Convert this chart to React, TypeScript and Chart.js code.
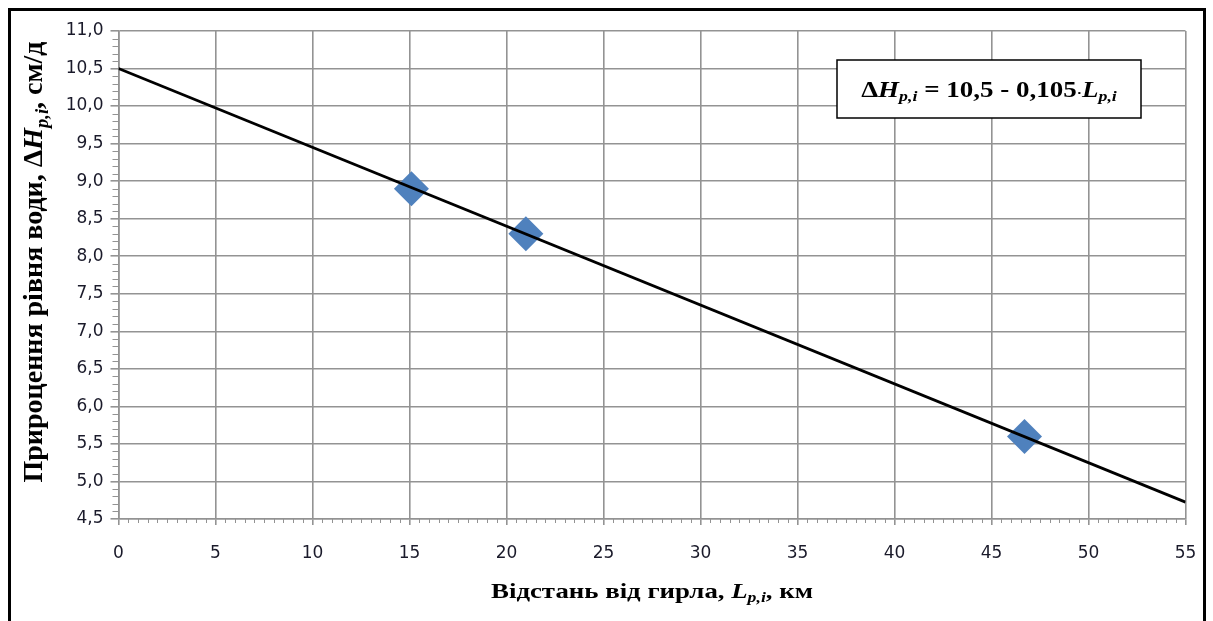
import { useEffect, useRef } from 'react';
import { Chart, registerables } from 'chart.js';

Chart.register(...registerables);

// Observed stations: distance from the river mouth (km) and daily water-level rise (cm/day)
const stationDistanceKm = [15.1, 21.0, 46.7];
const levelRiseCmPerDay = [8.9, 8.3, 5.6];

// Linear fit ΔH = 10,5 - 0,105·L, drawn over the full distance range
const fitIntercept = 10.5;
const fitSlope = -0.105;
const fitRangeKm = [0, 55];

// Axis ranges and tick steps
const xRange = [0, 55];
const xMajorStep = 5;
const xMinorStep = 0.5;
const yRange = [4.5, 11.0];
const yMajorStep = 0.5;
const yMinorStep = 0.1;

const SERIF = '"Liberation Serif", "Times New Roman", serif';
const TICK_FONT = '"DejaVu Sans", Verdana, sans-serif';
const GRID = '#939393';
const TEXT = '#1a1a2a';

type Run = { text: string; italic?: boolean; sub?: boolean; size?: number };

function runFont(r: Run, size: number) {
  const s = r.sub ? size * 0.66 : r.size ?? size;
  return `${r.italic ? 'italic ' : ''}bold ${s}px ${SERIF}`;
}

// Draws a row of text runs centered on (cx, baseline y), widened by sx along the text direction
function drawRuns(
  ctx: CanvasRenderingContext2D,
  runs: Run[],
  cx: number,
  y: number,
  size: number,
  sx = 1
) {
  const widths = runs.map((r) => {
    ctx.font = runFont(r, size);
    return ctx.measureText(r.text).width;
  });
  const total = widths.reduce((a, b) => a + b, 0);
  ctx.save();
  ctx.translate(cx, y);
  ctx.scale(sx, 1);
  let x = -total / 2;
  ctx.textAlign = 'left';
  ctx.textBaseline = 'alphabetic';
  runs.forEach((r, i) => {
    ctx.font = runFont(r, size);
    ctx.fillText(r.text, x, r.sub ? size * 0.2 : 0);
    x += widths[i];
  });
  ctx.restore();
}

const decorPlugin = {
  id: 'decor',
  afterDraw(chart: Chart) {
    const ctx = chart.ctx;
    const area = chart.chartArea;
    const xs = chart.scales.x;
    const ys = chart.scales.y;
    ctx.save();

    // minor tick marks
    ctx.strokeStyle = GRID;
    ctx.lineWidth = 1;
    ctx.beginPath();
    const nx = Math.round((xRange[1] - xRange[0]) / xMinorStep);
    for (let i = 0; i <= nx; i++) {
      const v = xRange[0] + i * xMinorStep;
      if (i % Math.round(xMajorStep / xMinorStep) === 0) continue;
      const px = Math.round(xs.getPixelForValue(v)) + 0.5;
      ctx.moveTo(px, area.bottom);
      ctx.lineTo(px, area.bottom + 4);
    }
    const ny = Math.round((yRange[1] - yRange[0]) / yMinorStep);
    for (let i = 0; i <= ny; i++) {
      const v = yRange[0] + i * yMinorStep;
      if (i % Math.round(yMajorStep / yMinorStep) === 0) continue;
      const py = Math.round(ys.getPixelForValue(v)) + 0.5;
      ctx.moveTo(area.left - 6, py);
      ctx.lineTo(area.left, py);
    }
    ctx.stroke();

    ctx.fillStyle = '#000';
    // x axis title
    drawRuns(
      ctx,
      [
        { text: 'Відстань від гирла, ' },
        { text: 'L', italic: true },
        { text: 'p,i', italic: true, sub: true },
        { text: ', км' },
      ],
      (area.left + area.right) / 2,
      587,
      22,
      1.22
    );

    // y axis title
    ctx.save();
    ctx.translate(31, 251);
    ctx.rotate(-Math.PI / 2);
    drawRuns(
      ctx,
      [
        { text: 'Прироцення рівня води, Δ' },
        { text: 'H', italic: true },
        { text: 'p,i', italic: true, sub: true },
        { text: ', см/д' },
      ],
      0,
      0,
      28
    );
    ctx.restore();

    // equation box
    const bx = area.right - 348.5;
    const by = area.top + 29;
    const bw = 304;
    const bh = 58;
    ctx.fillStyle = '#fff';
    ctx.fillRect(bx, by, bw, bh);
    ctx.strokeStyle = '#000';
    ctx.lineWidth = 1.5;
    ctx.strokeRect(bx, by, bw, bh);
    ctx.fillStyle = '#000';
    drawRuns(
      ctx,
      [
        { text: 'Δ' },
        { text: 'H', italic: true },
        { text: 'p,i', italic: true, sub: true },
        { text: ' = 10,5 - 0,105' },
        { text: '·', size: 13 },
        { text: 'L', italic: true },
        { text: 'p,i', italic: true, sub: true },
      ],
      bx + bw / 2,
      by + 36.5,
      22.5,
      1.2
    );
    ctx.restore();
  },
};

export default function App() {
  const canvasRef = useRef<HTMLCanvasElement | null>(null);

  useEffect(() => {
    document.documentElement.style.overflow = 'hidden';
    const canvas = canvasRef.current;
    if (!canvas) return;

    const points = stationDistanceKm.map((x, i) => ({ x, y: levelRiseCmPerDay[i] }));
    const fitLine = fitRangeKm.map((x) => ({ x, y: fitIntercept + fitSlope * x }));

    const chart = new Chart(canvas, {
      type: 'scatter',
      data: {
        datasets: [
          {
            type: 'line',
            data: fitLine,
            borderColor: '#000',
            borderWidth: 2.8,
            pointRadius: 0,
            fill: false,
            order: 0,
          },
          {
            type: 'scatter',
            data: points,
            pointStyle: 'rectRot',
            pointRadius: 17.5,
            pointHoverRadius: 17.5,
            backgroundColor: '#4f81bd',
            borderWidth: 0,
            order: 1,
          },
        ],
      },
      options: {
        responsive: false,
        animation: false,
        devicePixelRatio: 1,
        events: [],
        layout: { padding: { left: 0, right: 16.5, top: 20, bottom: 0 } },
        plugins: { legend: { display: false }, tooltip: { enabled: false } },
        scales: {
          x: {
            type: 'linear',
            min: xRange[0],
            max: xRange[1],
            afterFit: (s: any) => {
              s.height = 102;
              s.paddingLeft = 0;
              s.paddingRight = 0;
            },
            ticks: {
              stepSize: xMajorStep,
              color: TEXT,
              font: { family: TICK_FONT, size: 17 },
              padding: 18,
              maxRotation: 0,
            },
            grid: { color: GRID, lineWidth: 1.6, tickLength: 6, tickColor: GRID },
            border: { color: GRID, width: 1.6 },
          },
          y: {
            type: 'linear',
            min: yRange[0],
            max: yRange[1],
            afterFit: (s: any) => {
              s.width = 107.5;
              s.paddingTop = 0;
              s.paddingBottom = 0;
            },
            ticks: {
              stepSize: yMajorStep,
              color: TEXT,
              font: { family: TICK_FONT, size: 17 },
              padding: 7,
              callback: (v: any) => Number(v).toFixed(1).replace('.', ','),
            },
            grid: { color: GRID, lineWidth: 1.6, tickLength: 8, tickColor: GRID },
            border: { color: GRID, width: 1.6 },
          },
        },
      },
      plugins: [decorPlugin],
    });

    return () => chart.destroy();
  }, []);

  return (
    <div
      style={{
        position: 'fixed',
        left: 8,
        top: 8,
        width: 1192,
        height: 610,
        borderLeft: '3px solid #000',
        borderTop: '3px solid #000',
        borderRight: '3px solid #000',
        background: '#fff',
      }}
    >
      <canvas ref={canvasRef} width={1192} height={610} style={{ display: 'block' }} />
    </div>
  );
}
